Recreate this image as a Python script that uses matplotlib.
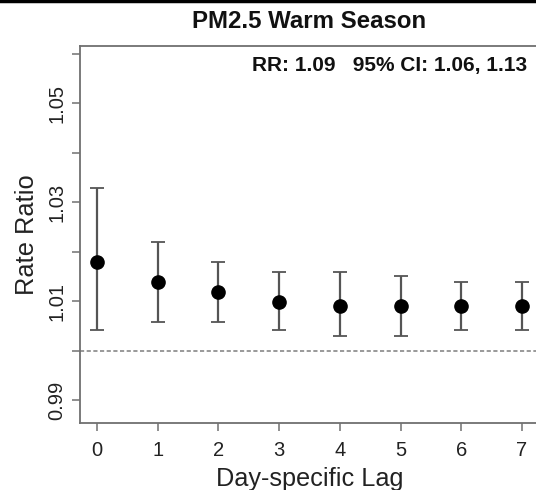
import matplotlib
matplotlib.use('Agg')
import matplotlib.pyplot as plt
from matplotlib.lines import Line2D

plt.rcParams['font.family'] = ['Liberation Sans', 'DejaVu Sans']

# Day-specific lag estimates (rate ratio) with 95% CI
lags = [0, 1, 2, 3, 4, 5, 6, 7]
rr = [1.0178, 1.0139, 1.0119, 1.0099, 1.0089, 1.0089, 1.0089, 1.0089]
ci_low = [1.0041, 1.0057, 1.0057, 1.0041, 1.0029, 1.0029, 1.0041, 1.0041]
ci_high = [1.0328, 1.0219, 1.0178, 1.0158, 1.0158, 1.0150, 1.0138, 1.0138]

y_ticks = [0.99, 1.00, 1.01, 1.02, 1.03, 1.04, 1.05, 1.06]
y_labels = ['0.99', '', '1.01', '', '1.03', '', '1.05', '']

fig = plt.figure(figsize=(5.36, 4.90), dpi=100)
ax = fig.add_axes([80 / 536, 1 - 423 / 490, 459 / 536, 377 / 490])

err_lo = [r - l for r, l in zip(rr, ci_low)]
err_hi = [h - r for r, h in zip(rr, ci_high)]
ax.errorbar(lags, rr, yerr=[err_lo, err_hi], fmt='o', color='black',
            ecolor='#555555', elinewidth=1.6, capsize=4.7, capthick=1.3,
            markersize=9.5, zorder=3)

ax.axhline(1.0, color='#888888', lw=1.2, ls=(0, (2.5, 1.5)), zorder=1)

ax.set_xlim(-0.28, 7.28)
ax.set_ylim(0.98534, 1.06158)
ax.set_xticks(lags)
ax.set_yticks(y_ticks)
ax.set_yticklabels(y_labels, rotation=90, va='center')

for s in ax.spines.values():
    s.set_color('#707070')
    s.set_linewidth(1.3)
ax.tick_params(axis='both', colors='#707070', length=6, width=1.1,
               labelsize=14.5, labelcolor='#222222', pad=7)
ax.tick_params(axis='y', pad=4)

ax.set_xlabel('Day-specific Lag', fontsize=18.2, color='#222222', labelpad=5)
ax.set_ylabel('Rate Ratio', fontsize=18.3, color='#222222', labelpad=6)

fig.text(527 / 536, 1 - 65 / 490, 'RR: 1.09   95% CI: 1.06, 1.13',
         ha='right', va='center', fontsize=15, fontweight='bold', color='#111111')
fig.text(309 / 536, 1 - 22 / 490, 'PM2.5 Warm Season', ha='center', va='center',
         fontsize=17.3, fontweight='bold', color='#111111')

# black rule along the top edge
fig.add_artist(Line2D([0, 1], [1 - 1.5 / 490, 1 - 1.5 / 490], color='black', lw=2.5,
                      transform=fig.transFigure))

fig.savefig('out.png', dpi=100)
